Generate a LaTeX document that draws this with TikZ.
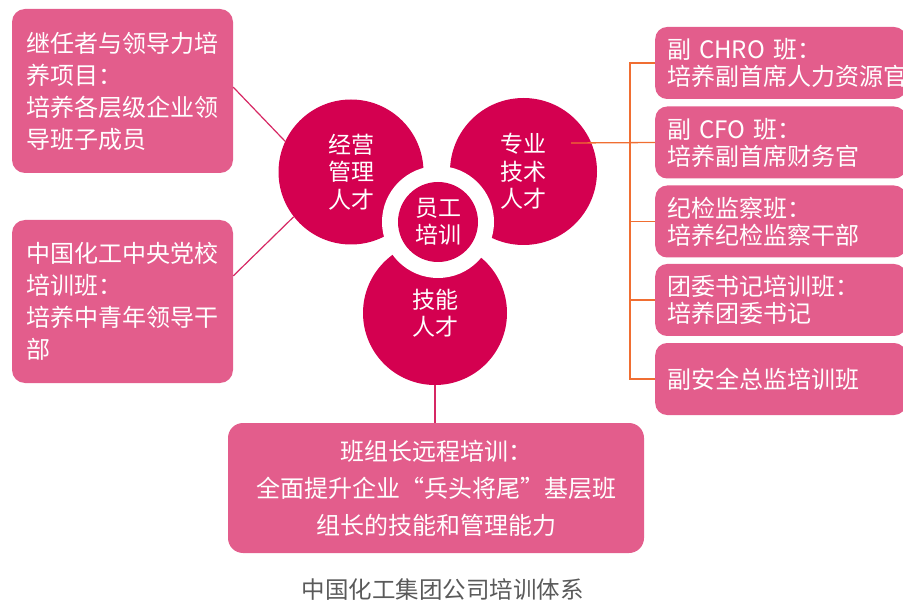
\documentclass[tikz,border=0pt]{standalone}
\usepackage{fontspec}
\setmainfont{Noto Sans CJK SC}
\usepackage{tikz}
\definecolor{boxpink}{RGB}{227,93,140}
\definecolor{talent}{RGB}{212,0,80}
\definecolor{linkred}{RGB}{214,40,100}
\definecolor{busorange}{RGB}{240,110,50}
\definecolor{capgray}{RGB}{90,90,90}

\begin{document}
\begin{tikzpicture}[x=1pt,y=-1pt,
			talentball/.style={circle,fill=talent,inner sep=0pt,text=white,align=center,font=\fontsize{23}{27.5}\selectfont},
			leftbox/.style={rectangle,rounded corners=13pt,fill=boxpink,text=white,align=left,minimum width=221pt,inner sep=0pt,font=\fontsize{24}{32}\selectfont},
			classbox/.style={rectangle,rounded corners=12pt,fill=boxpink,text=white,align=left,anchor=west,minimum height=72pt,text width=227pt,inner xsep=12pt,inner ysep=0pt,font=\fontsize{24}{27}\selectfont},
			link/.style={draw=linkred,line width=1.2pt},
			bus/.style={draw=busorange,line width=1.3pt}]
			\useasboundingbox (0,0) rectangle (903,604);
			\node[leftbox,minimum height=164pt] (succ) at (122.5,91) {继任者与领导力培\\养项目：\\培养各层级企业领\\导班子成员};
			\node[leftbox,minimum height=163pt] (school) at (122.5,301.5) {中国化工中央党校\\培训班：\\培养中青年领导干\\部};
			\node[talentball,minimum size=145pt] (mgmt) at (351,172) {经营\\管理\\人才};
			\node[talentball,minimum size=147pt] (tech) at (523.5,171.5) {专业\\技术\\人才};
			\node[talentball,minimum size=144pt] (skill) at (435,313) {技能\\人才};
			\node[circle,fill=white,minimum size=112pt] (ring) at (438,222) {};
			\node[talentball,minimum size=80pt] (core) at (438,222) {员工\\培训};
			\node[classbox] (chro) at (655,63) {副 CHRO 班：\\培养副首席人力资源官};
			\node[classbox] (cfo) at (655,142.5) {副 CFO 班：\\培养副首席财务官};
			\node[classbox] (disc) at (655,221.5) {纪检监察班：\\培养纪检监察干部};
			\node[classbox] (league) at (655,300) {团委书记培训班：\\培养团委书记};
			\node[classbox] (safety) at (655,379) {副安全总监培训班};
			\node[rectangle,rounded corners=15pt,fill=boxpink,text=white,align=center,minimum width=416pt,minimum height=130pt,font=\fontsize{24}{37}\selectfont] (remote) at (436,488) {班组长远程培训：\\全面提升企业“兵头将尾”基层班\\组长的技能和管理能力};
			\node[text=capgray,font=\fontsize{23.5}{28}\selectfont] (caption) at (442.5,590) {中国化工集团公司培训体系};
			% connectors
			\draw[link] (succ.2) -- (mgmt.155);
			\draw[link] (school.13) -- (mgmt.218);
			\draw[link] (skill.south) -- (skill.south |- remote.north);
			\coordinate (hub) at (630,143);
			\coordinate (techout) at (571,143);
			\draw[bus] (techout) -- (cfo.west);
			\draw[bus] (chro.west) -- (chro.west -| hub) -- (safety.west -| hub) -- (safety.west);
			\draw[bus] (disc.west -| hub) -- (disc.west);
			\draw[bus] (league.west -| hub) -- (league.west);
\end{tikzpicture}
\end{document}
